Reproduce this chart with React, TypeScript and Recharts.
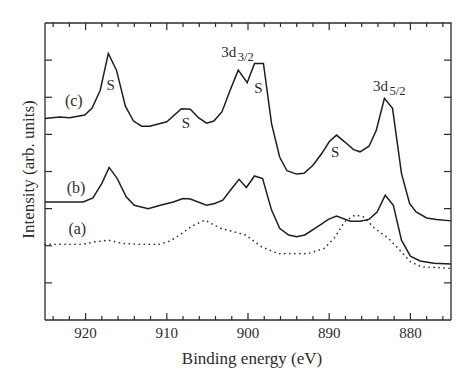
import React from 'react';
import { LineChart, Line, XAxis, YAxis, ReferenceDot } from 'recharts';

// Binding energy (eV) and intensity (arb. units)
const cEnergy = [925, 923.2, 922, 920.1, 919.2, 918.2, 917.2, 916.2, 915.1, 914.1, 913.1, 912.1, 910.0, 908.2, 907.1, 906.1, 905.1, 904.2, 903.2, 902.2, 901.2, 900.1, 899.2, 898.1, 897.1, 896.1, 895.2, 894.0, 893.1, 892.0, 890.9, 890.0, 889.1, 888.1, 887.0, 886.2, 885.1, 884.2, 883.2, 882.2, 881.1, 880.1, 879.3, 878.0, 876.8, 875];
const cIntensity = [5.43, 5.47, 5.45, 5.52, 5.71, 6.19, 7.18, 6.73, 5.76, 5.36, 5.22, 5.22, 5.34, 5.69, 5.68, 5.45, 5.30, 5.36, 5.61, 6.19, 6.73, 6.39, 6.91, 6.91, 5.29, 4.39, 4.02, 3.93, 3.95, 4.17, 4.49, 4.80, 4.98, 4.80, 4.59, 4.53, 4.68, 5.11, 5.97, 5.70, 3.95, 3.14, 2.91, 2.75, 2.71, 2.67];

const bEnergy = [925, 920.3, 919.1, 918.0, 917.1, 916.1, 915.0, 914.0, 912.3, 910.8, 909.2, 908.0, 907.1, 905.1, 904.1, 903.1, 902.0, 901.1, 900.2, 899.2, 898.2, 897.1, 896.1, 895.0, 894.0, 893.0, 891.1, 890.1, 889.1, 887.4, 886.2, 885.1, 884.1, 883.1, 882.1, 881.1, 880.0, 878.8, 877.1, 875];
const bIntensity = [3.18, 3.18, 3.29, 3.68, 4.11, 3.81, 3.32, 3.09, 3.00, 3.09, 3.18, 3.27, 3.26, 3.09, 3.14, 3.23, 3.54, 3.79, 3.57, 3.88, 3.81, 2.96, 2.47, 2.29, 2.24, 2.29, 2.56, 2.71, 2.80, 2.66, 2.66, 2.71, 2.91, 3.36, 3.09, 2.15, 1.72, 1.59, 1.53, 1.51];

const aEnergy = [925, 920.3, 918.7, 917.2, 915.4, 913.3, 910.9, 909.6, 908.4, 906.9, 905.3, 903.4, 901.8, 900.3, 898.3, 896.3, 892.6, 890.6, 889.3, 888.1, 886.8, 885.8, 884.4, 882.7, 881.3, 880.0, 878.6, 876.5, 875];
const aIntensity = [2.04, 2.04, 2.11, 2.15, 2.06, 2.04, 2.04, 2.13, 2.29, 2.53, 2.69, 2.47, 2.38, 2.29, 1.97, 1.79, 1.79, 1.93, 2.23, 2.65, 2.83, 2.78, 2.47, 2.20, 1.88, 1.57, 1.43, 1.41, 1.39];

const xTicks = [876, 878, 880, 882, 884, 886, 888, 890, 892, 894, 896, 898, 900, 902, 904, 906, 908, 910, 912, 914, 916, 918, 920, 922, 924];
const yTicks = [1, 2, 3, 4, 5, 6, 7];
const X_MIN = 875;
const X_MAX = 925;
const Y_MIN = 0;
const Y_MAX = 8;

// annotations: [label, energy, intensity(baseline)]
const curveLabels: [string, number, number][] = [
  ['(c)', 921.45, 5.76],
  ['(b)', 921.18, 3.43],
  ['(a)', 921.02, 2.31],
];
const sLabels: [number, number][] = [
  [916.91, 6.19],
  [907.64, 5.16],
  [898.73, 6.11],
  [889.25, 4.4],
];
const peakLabels: [string, string, number, number][] = [
  ['3d', '3/2', 901.29, 7.08],
  ['3d', '5/2', 882.6, 6.18],
];

const toPoints = (e: number[], v: number[]) => e.map((x, i) => ({ x, y: v[i] }));
const cData = toPoints(cEnergy, cIntensity);
const bData = toPoints(bEnergy, bIntensity);
const aData = toPoints(aEnergy, aIntensity);

// top and right edges of the frame, with tick positions along them
const frameData = [
  { x: X_MAX, y: Y_MAX },
  { x: X_MIN, y: Y_MAX },
  { x: X_MIN, y: Y_MIN },
];
const topTickData = xTicks.map((t) => ({ x: t, y: Y_MAX }));
const rightTickData = yTicks.map((t) => ({ x: X_MIN, y: t }));

const FONT = '"Liberation Serif", "DejaVu Serif", serif';
const INK = '#2b2b2b';
const textStyle = { fontFamily: FONT };

function BottomTick(props: any) {
  const { x, y, payload } = props;
  const major = payload.value % 10 === 0;
  return (
    <g>
      <line x1={x} x2={x} y1={y} y2={y - (major ? 7 : 4)} stroke={INK} strokeWidth={1.2} />
      {major && (
        <text x={x} y={y + 18} textAnchor="middle" fontSize={15} fontFamily={FONT} style={textStyle} fill={INK}>
          {payload.value}
        </text>
      )}
    </g>
  );
}

function LeftTick(props: any) {
  const { x, y } = props;
  return <line x1={x} x2={x + 7} y1={y} y2={y} stroke={INK} strokeWidth={1.2} />;
}

const renderTopTick = (p: any) => {
  const major = p.payload && p.payload.x % 10 === 0;
  return <line key={'tt' + p.index} x1={p.cx} x2={p.cx} y1={p.cy} y2={p.cy + (major ? 7 : 4)} stroke={INK} strokeWidth={1.2} />;
};
const renderRightTick = (p: any) => (
  <line key={'rt' + p.index} x1={p.cx} x2={p.cx - 7} y1={p.cy} y2={p.cy} stroke={INK} strokeWidth={1.2} />
);

function XTitle(props: any) {
  const vb = props.viewBox || {};
  return (
    <text x={vb.x + vb.width / 2 + 4} y={vb.y + 44} textAnchor="middle" fontSize={17} fontFamily={FONT} style={textStyle} fill={INK}>
      Binding energy (eV)
    </text>
  );
}

function YTitle(props: any) {
  const vb = props.viewBox || {};
  const x = vb.x + vb.width - 11;
  const y = vb.y + vb.height / 2 - 2;
  return (
    <text x={x} y={y} transform={`rotate(-90, ${x}, ${y})`} textAnchor="middle" fontSize={17} fontFamily={FONT} style={textStyle} fill={INK}>
      Intensity (arb. units)
    </text>
  );
}

function Anno(props: any) {
  const { viewBox, text, sub, size } = props;
  const vb = viewBox || {};
  const x = vb.x + (vb.width || 0) / 2;
  const y = vb.y + (vb.height || 0) / 2;
  return (
    <text x={x} y={y} textAnchor="middle" fontSize={size || 15} fontFamily={FONT} style={textStyle} fill={INK}>
      {text}
      {sub && (
        <tspan fontSize={12.5} dx={1.5} dy={4}>
          {sub}
        </tspan>
      )}
    </text>
  );
}

export default function App() {
  return (
    <div style={{ position: 'absolute', left: 0, top: 0, width: 474, height: 389, background: '#fff' }}>
      <LineChart width={474} height={389} margin={{ top: 23, right: 23, bottom: 29, left: 15 }}>
        <XAxis
          dataKey="x"
          type="number"
          domain={[X_MIN, X_MAX]}
          reversed
          ticks={xTicks}
          interval={0}
          height={40}
          tickSize={0}
          tickMargin={0}
          tickLine={false}
          tick={<BottomTick />}
          axisLine={{ stroke: INK, strokeWidth: 1.3 }}
          label={<XTitle />}
        />
        <YAxis
          type="number"
          domain={[Y_MIN, Y_MAX]}
          ticks={yTicks}
          interval={0}
          width={30}
          tickSize={0}
          tickMargin={0}
          tickLine={false}
          tick={<LeftTick />}
          axisLine={{ stroke: INK, strokeWidth: 1.3 }}
          label={<YTitle />}
        />
        <Line data={frameData} dataKey="y" type="linear" stroke={INK} strokeWidth={1.3} dot={false} activeDot={false} isAnimationActive={false} />
        <Line data={topTickData} dataKey="y" type="linear" stroke="none" dot={renderTopTick} activeDot={false} isAnimationActive={false} />
        <Line data={rightTickData} dataKey="y" type="linear" stroke="none" dot={renderRightTick} activeDot={false} isAnimationActive={false} />
        <Line
          data={aData}
          dataKey="y"
          type="linear"
          stroke="#333"
          strokeWidth={1.7}
          strokeDasharray="0.1 4.9"
          strokeLinecap="round"
          dot={false}
          isAnimationActive={false}
        />
        <Line data={bData} dataKey="y" type="linear" stroke="#1e1e1e" strokeWidth={1.5} dot={false} isAnimationActive={false} />
        <Line data={cData} dataKey="y" type="linear" stroke="#1e1e1e" strokeWidth={1.5} dot={false} isAnimationActive={false} />
        {curveLabels.map(([t, ex, iy]) => (
          <ReferenceDot key={t} x={ex} y={iy} r={0} fill="none" stroke="none" ifOverflow="visible" label={<Anno text={t} size={16} />} />
        ))}
        {sLabels.map(([ex, iy], i) => (
          <ReferenceDot key={'s' + i} x={ex} y={iy} r={0} fill="none" stroke="none" ifOverflow="visible" label={<Anno text="S" size={15} />} />
        ))}
        {peakLabels.map(([t, s, ex, iy]) => (
          <ReferenceDot key={t + s} x={ex} y={iy} r={0} fill="none" stroke="none" ifOverflow="visible" label={<Anno text={t} sub={s} size={15} />} />
        ))}
      </LineChart>
    </div>
  );
}
